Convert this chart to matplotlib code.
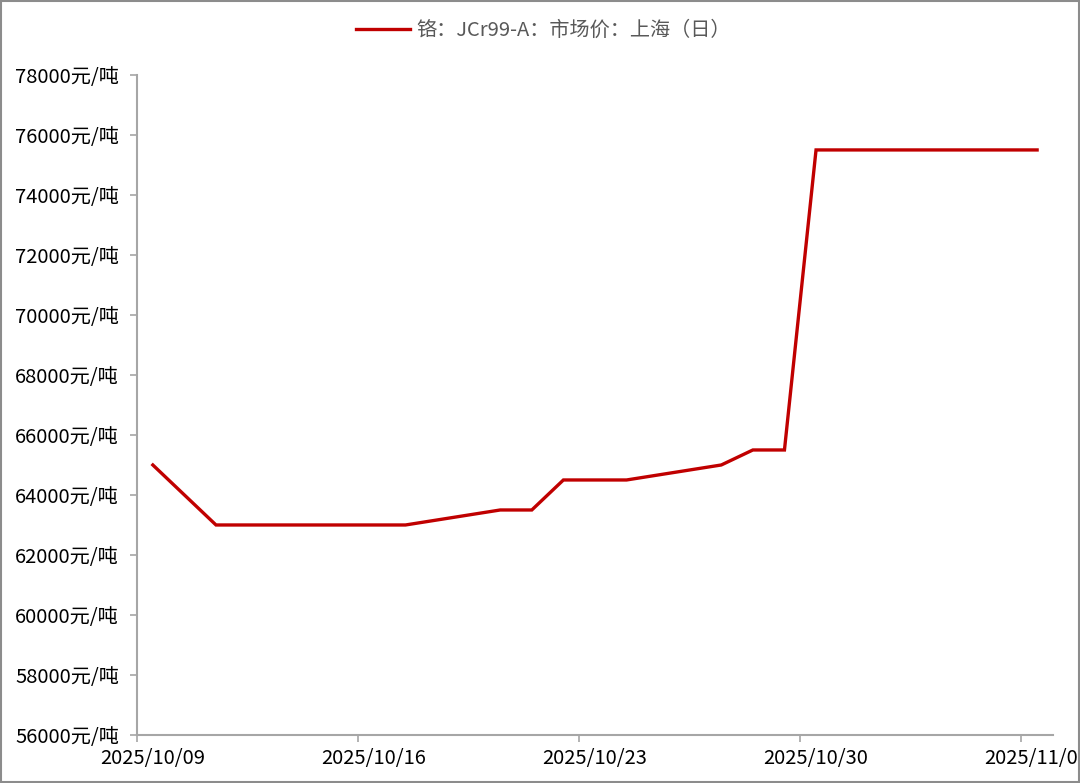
import matplotlib
matplotlib.use('Agg')
import matplotlib.pyplot as plt
import numpy as np
import pandas as pd
from matplotlib.patches import Rectangle

plt.rcParams['font.family'] = ['Noto Sans CJK SC', 'DejaVu Sans']

dates = ['2025-10-09', '2025-10-11', '2025-10-13', '2025-10-14', '2025-10-15',
         '2025-10-16', '2025-10-17', '2025-10-20', '2025-10-21', '2025-10-22',
         '2025-10-23', '2025-10-24', '2025-10-27', '2025-10-28', '2025-10-29',
         '2025-10-30', '2025-10-31', '2025-11-03', '2025-11-04', '2025-11-05',
         '2025-11-06']
prices = [65000, 63000, 63000, 63000, 63000,
          63000, 63000, 63500, 63500, 64500,
          64500, 64500, 65000, 65500, 65500,
          75500, 75500, 75500, 75500, 75500,
          75500]
tick_dates = ['2025-10-09', '2025-10-16', '2025-10-23', '2025-10-30', '2025-11-06']
yticks = np.arange(56000, 78001, 2000)
series_name = '铬：JCr99-A：市场价：上海（日）'

red = '#C00000'
gray = '#A6A6A6'

fig = plt.figure(figsize=(10.8, 7.83), dpi=100)
ax = fig.add_axes([0.1269, 0.0613, 0.848, 0.8430])

x = pd.to_datetime(dates) + pd.Timedelta(hours=12)
ax.plot(x, prices, color=red, lw=2.4, label=series_name, solid_joinstyle='miter')

ax.set_xlim(pd.Timestamp('2025-10-09'), pd.Timestamp('2025-11-07'))
ax.set_ylim(56000, 78000)

td = pd.to_datetime(tick_dates)
ax.set_xticks(td)
ax.set_xticklabels([])
ax.set_xticks(td + pd.Timedelta(hours=12), minor=True)
ax.set_xticklabels([d.strftime('%Y/%m/%d') for d in td], minor=True)
ax.tick_params(axis='x', which='major', length=5, width=1.2, color=gray)
ax.tick_params(axis='x', which='minor', length=0, pad=9, labelsize=14.5)

ax.set_yticks(yticks)
ax.set_yticklabels([f'{v}元/吨' for v in yticks])
ax.tick_params(axis='y', length=5, width=1.2, color=gray, labelsize=14.5, pad=8)

for s in ['top', 'right']:
    ax.spines[s].set_visible(False)
for s in ['left', 'bottom']:
    ax.spines[s].set_color(gray)
    ax.spines[s].set_linewidth(1.5)

leg = fig.legend(loc='upper center', bbox_to_anchor=(0.503, 0.998), frameon=False,
                 fontsize=14.5, handlelength=2.7, handletextpad=0.3)
for t in leg.get_texts():
    t.set_color('#595959')

fig.patches.append(Rectangle((0.0005, 0.0007), 0.999, 0.9986, transform=fig.transFigure,
                             fill=False, edgecolor='#8C8C8C', lw=1.5))

fig.savefig('out.png', dpi=100)
